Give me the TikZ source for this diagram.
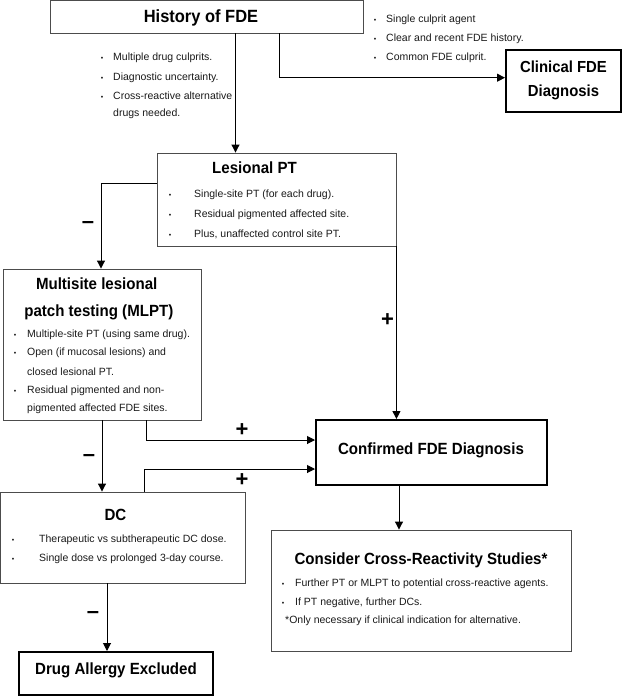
\documentclass[tikz,border=0pt]{standalone}
\usepackage{fontspec}
\setmainfont{Liberation Sans}
\newfontfamily\ttlfont[FakeStretch=0.93]{Liberation Sans}
\usetikzlibrary{arrows.meta}
\begin{document}
\begin{tikzpicture}[x=1pt,y=-1pt,
 thinbox/.style={draw=black!70, line width=0.9pt, inner sep=0pt, rectangle},
 thickbox/.style={draw=black, line width=2pt, inner sep=0pt, rectangle},
 arr/.style={draw=black, line width=1pt, -{Triangle[length=8pt,width=8pt]}},
 body/.style={inner sep=0pt, anchor=base west, font=\fontsize{10.5}{12}\selectfont, text=black!90},
 bul/.style={inner sep=0pt, anchor=base, font=\fontsize{7}{8}\selectfont, text=black!90},
 ttl/.style={inner sep=0pt, anchor=base, font=\ttlfont\bfseries\fontsize{16.2}{18}\selectfont},
 sgn/.style={inner sep=0pt, anchor=base, font=\bfseries\fontsize{22}{24}\selectfont}
]
\useasboundingbox (0,0) rectangle (622,696);

% boxes
\node[thinbox, minimum width=313pt, minimum height=32.5pt] (hist) at (207,16.75) {};
\node[thickbox, minimum width=114.5pt, minimum height=61.5pt] (clin) at (563.25,80.75) {};
\node[thinbox, minimum width=239pt, minimum height=93pt] (lpt) at (276.5,199.5) {};
\node[thinbox, minimum width=198pt, minimum height=151pt] (mlpt) at (102,344.5) {};
\node[thinbox, minimum width=244.5pt, minimum height=91pt] (dc) at (122.75,537.5) {};
\node[thickbox, minimum width=194pt, minimum height=43pt] (drug) at (116,673.5) {};
\node[thickbox, minimum width=231pt, minimum height=65pt] (conf) at (431.5,452.5) {};
\node[thinbox, minimum width=300pt, minimum height=121pt] (cons) at (421,590.5) {};

% titles
\node[ttl, font=\ttlfont\bfseries\fontsize{17.7}{20}\selectfont] (histT) at (201,22) {History of FDE};
\node[ttl, font=\ttlfont\bfseries\fontsize{16}{18}\selectfont] (clinT1) at (563.5,72.3) {Clinical FDE};
\node[ttl, font=\ttlfont\bfseries\fontsize{16}{18}\selectfont] (clinT2) at (563.5,96.7) {Diagnosis};
\node[ttl] (lptT) at (254.5,173.3) {Lesional PT};
\node[ttl] (mlptT1) at (96.7,289.5) {Multisite lesional};
\node[ttl] (mlptT2) at (98.8,316) {patch testing (MLPT)};
\node[ttl] (dcT) at (115.5,520) {DC};
\node[ttl] (drugT) at (116,674) {Drug Allergy Excluded};
\node[ttl] (confT) at (431,454.3) {Confirmed FDE Diagnosis};
\node[ttl] (consT) at (421,564) {Consider Cross-Reactivity Studies*};

% top right bullets
\node[bul] (rb1) at (375,22.8) {\textbullet};
\node[body] (rt1) at (386,22.8) {Single culprit agent};
\node[bul] (rb2) at (375,41.8) {\textbullet};
\node[body] (rt2) at (386,41.8) {Clear and recent FDE history.};
\node[bul] (rb3) at (375,60.8) {\textbullet};
\node[body] (rt3) at (386,60.8) {Common FDE culprit.};

% top left bullets
\node[bul] (lb1) at (102,60.8) {\textbullet};
\node[body] (lt1) at (113,60.8) {Multiple drug culprits.};
\node[bul] (lb2) at (102,80.2) {\textbullet};
\node[body] (lt2) at (113,80.2) {Diagnostic uncertainty.};
\node[bul] (lb3) at (102,99.2) {\textbullet};
\node[body] (lt3) at (113,99.2) {Cross-reactive alternative};
\node[body] (lt4) at (113,116.8) {drugs needed.};

% lesional PT
\node[bul] (pb1) at (170,197.5) {\textbullet};
\node[body] (pt1) at (194,197.5) {Single-site PT (for each drug).};
\node[bul] (pb2) at (170,217.5) {\textbullet};
\node[body] (pt2) at (194,217.5) {Residual pigmented affected site.};
\node[bul] (pb3) at (170,237.5) {\textbullet};
\node[body] (pt3) at (194,237.5) {Plus, unaffected control site PT.};

% MLPT
\node[bul] (mb1) at (15,337.5) {\textbullet};
\node[body] (mt1) at (27,337.5) {Multiple-site PT (using same drug).};
\node[bul] (mb2) at (15,355.5) {\textbullet};
\node[body] (mt2) at (27,355.5) {Open (if mucosal lesions) and};
\node[body] (mt3) at (27,375.5) {closed lesional PT.};
\node[bul] (mb4) at (15,393.5) {\textbullet};
\node[body] (mt4) at (27,393.5) {Residual pigmented and non-};
\node[body] (mt5) at (27,411.5) {pigmented affected FDE sites.};

% DC
\node[bul] (db1) at (13,542.5) {\textbullet};
\node[body] (dt1) at (39,542.5) {Therapeutic vs subtherapeutic DC dose.};
\node[bul] (db2) at (13,561.5) {\textbullet};
\node[body] (dt2) at (39,561.5) {Single dose vs prolonged 3-day course.};

% Consider
\node[bul] (cb1) at (283,586.5) {\textbullet};
\node[body] (ct1) at (295,586.5) {Further PT or MLPT to potential cross-reactive agents.};
\node[bul] (cb2) at (283,605.5) {\textbullet};
\node[body] (ct2) at (295,605.5) {If PT negative, further DCs.};
\node[body] (ct3) at (285,623.5) {*Only necessary if clinical indication for alternative.};

% columns / rows for connectors
\coordinate (xA) at (235.5,0);
\coordinate (xB) at (279,0);
\coordinate (yB) at (0,77.7);
\coordinate (xC) at (101,0);
\coordinate (yC) at (0,183);
\coordinate (xE) at (102,0);
\coordinate (xF) at (146,0);
\coordinate (yF) at (0,440);
\coordinate (xG) at (144,0);
\coordinate (yG) at (0,469);
\coordinate (xH) at (107,0);
\coordinate (xI) at (399,0);

% connectors
\draw[arr] (hist.south -| xA) -- (xA |- lpt.north);
\draw[arr] (hist.south -| xB) |- (clin.west |- yB);
\draw[arr] (lpt.west |- yC) -| (xC |- mlpt.north);
\draw[arr] (lpt.south east) -- (lpt.south east |- conf.north);
\draw[arr] (mlpt.south -| xE) -- (xE |- dc.north);
\draw[arr] (mlpt.south -| xF) |- (conf.west |- yF);
\draw[arr] (dc.north -| xG) |- (conf.west |- yG);
\draw[arr] (dc.south -| xH) -- (xH |- drug.north);
\draw[arr] (conf.south -| xI) -- (xI |- cons.north);

% signs
\node[sgn] (s1) at (88,228.5) {–};
\node[sgn] (s2) at (387.5,326.6) {+};
\node[sgn] (s3) at (242,436.6) {+};
\node[sgn] (s4) at (89,461.3) {–};
\node[sgn] (s5) at (242,486.6) {+};
\node[sgn] (s6) at (93,618.6) {–};
\end{tikzpicture}
\end{document}
